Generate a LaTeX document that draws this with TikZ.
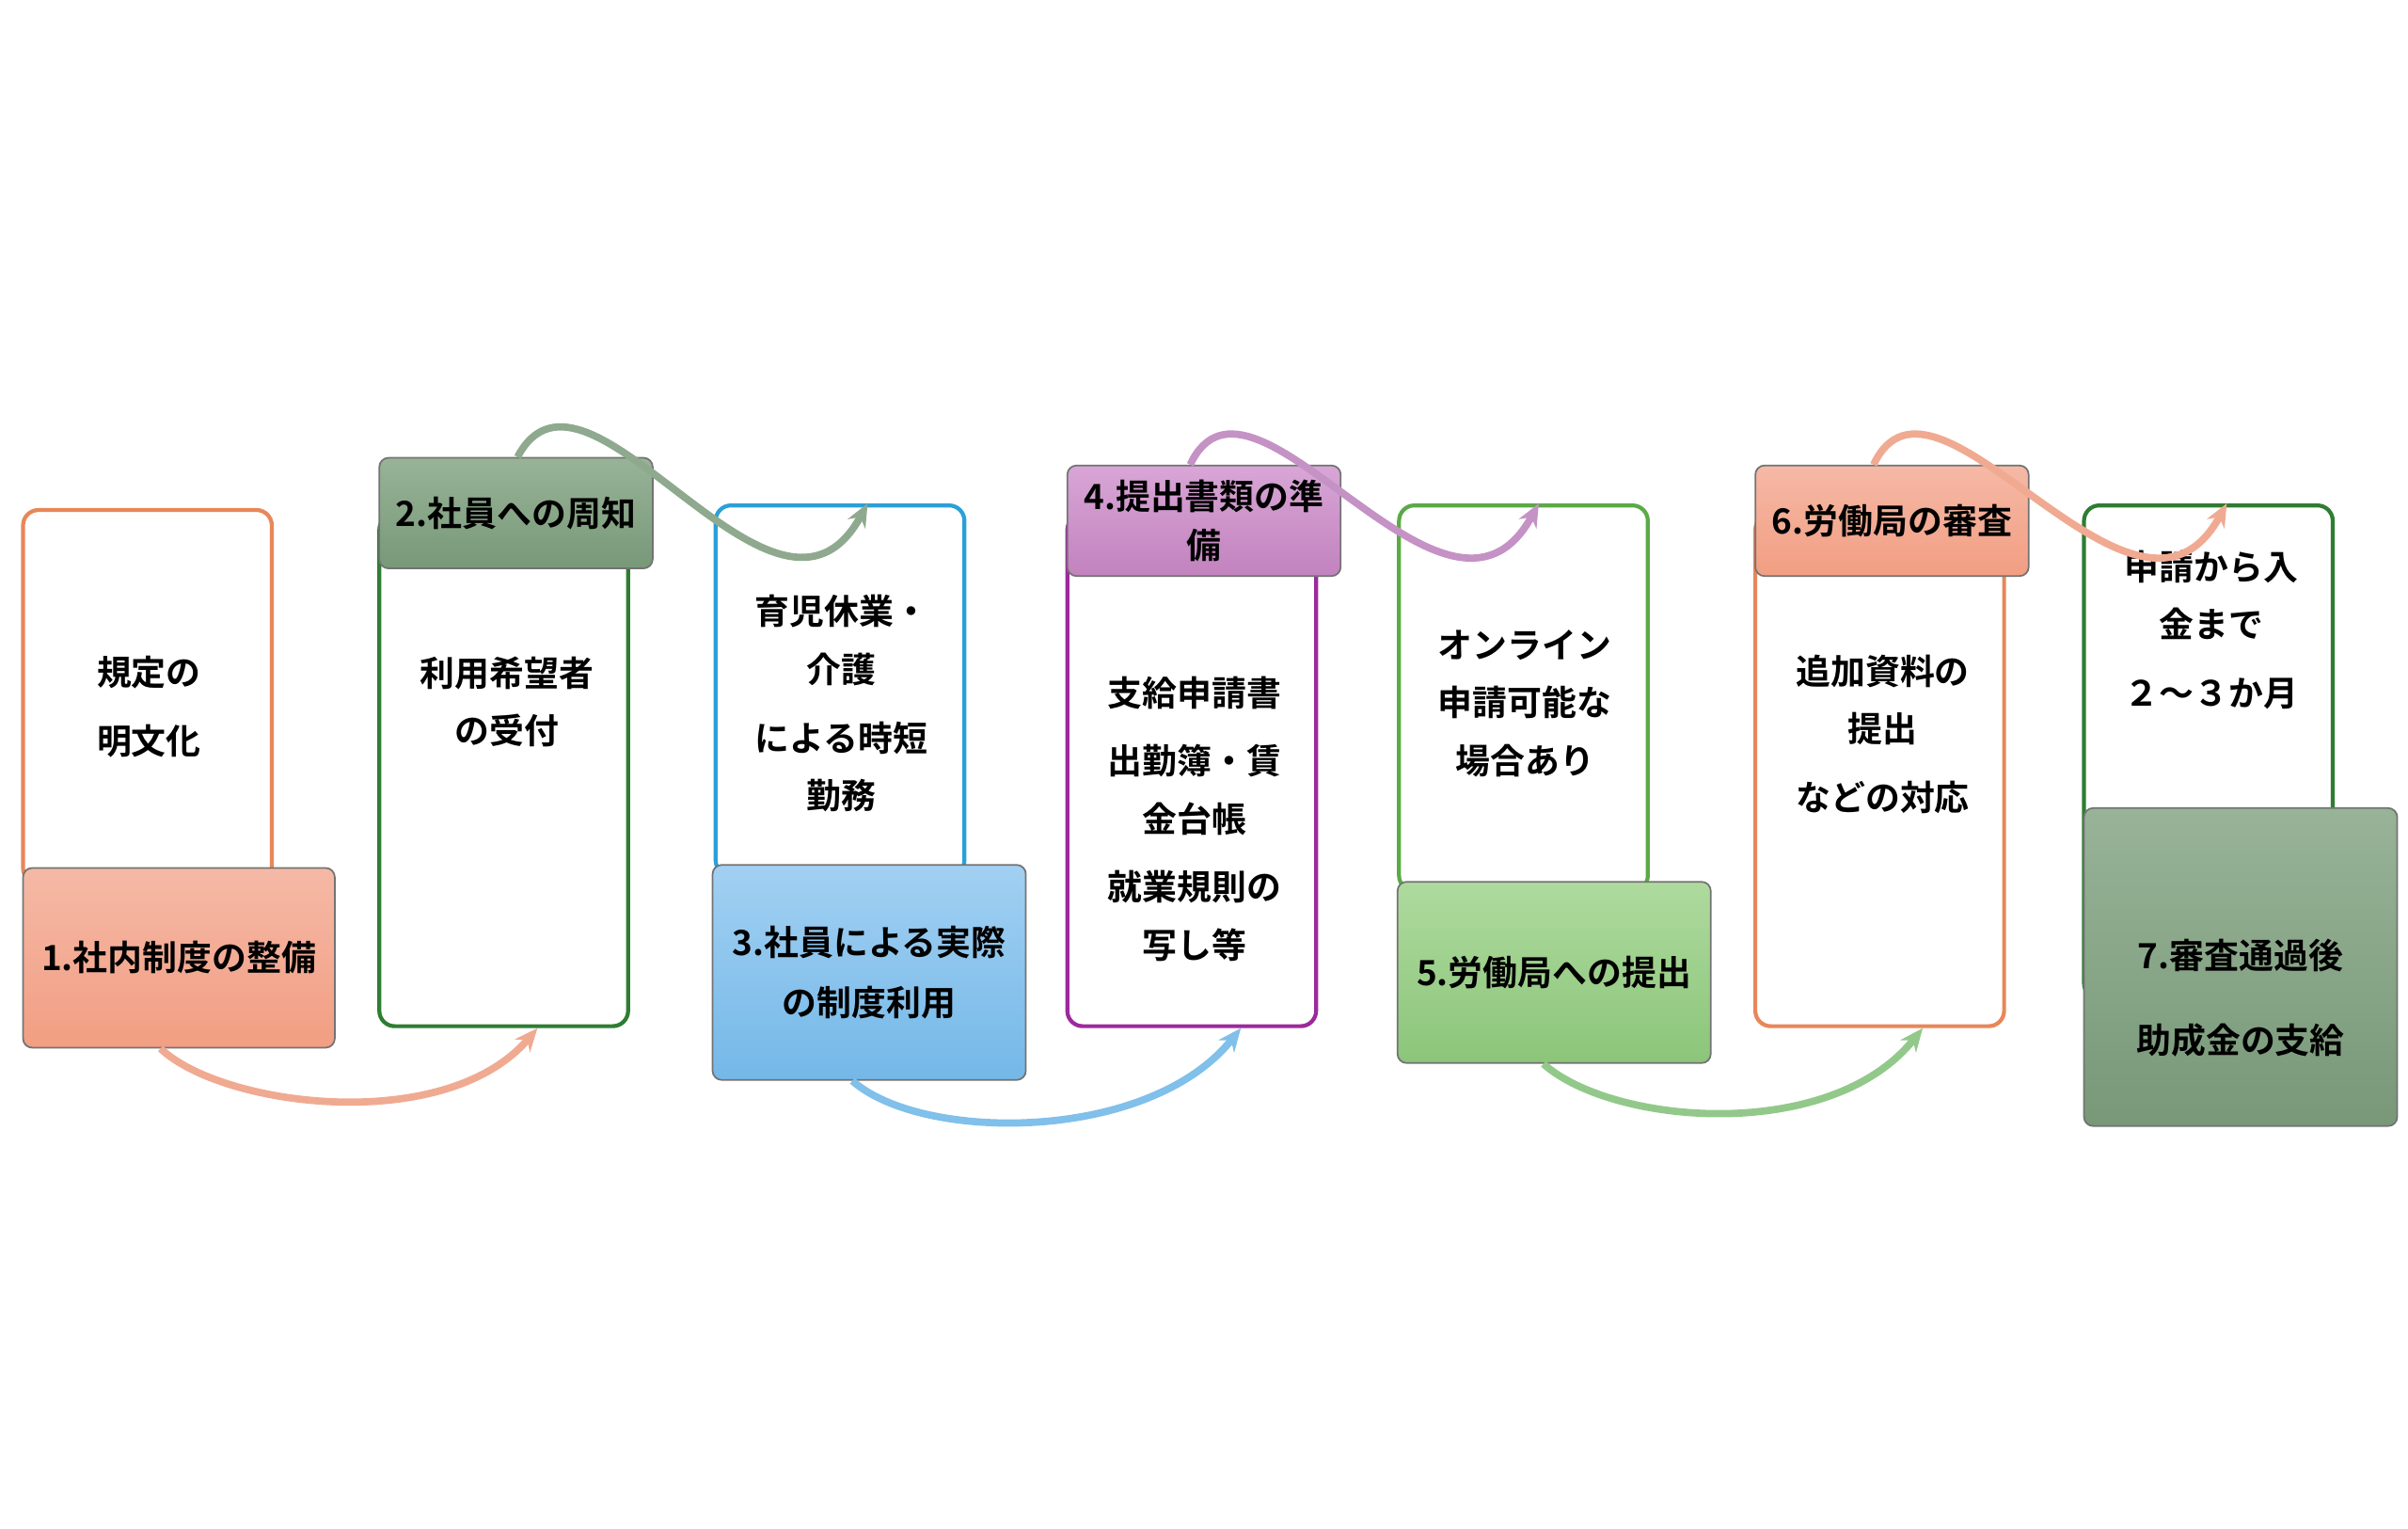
\documentclass[tikz,border=0pt]{standalone}
\usepackage{fontspec}
\setmainfont{Noto Sans CJK JP}[BoldFont={Noto Sans CJK JP Bold}]
\usetikzlibrary{arrows.meta,positioning}
\def\u{0.01633cm}
\definecolor{salmonA}{HTML}{F5B9A6}\definecolor{salmonB}{HTML}{F29E82}
\definecolor{sageA}{HTML}{98B398}\definecolor{sageB}{HTML}{789878}
\definecolor{skyA}{HTML}{A2D0F2}\definecolor{skyB}{HTML}{74B8E8}
\definecolor{plumA}{HTML}{D8A6D6}\definecolor{plumB}{HTML}{C282BE}
\definecolor{leafA}{HTML}{AEDA9E}\definecolor{leafB}{HTML}{8CC57A}
\definecolor{lineOr}{HTML}{E8875A}\definecolor{lineDg}{HTML}{2E7D32}
\definecolor{lineBl}{HTML}{2AA0D8}\definecolor{linePu}{HTML}{9C2A9C}
\definecolor{lineGr}{HTML}{5AAA46}
\definecolor{arOr}{HTML}{F0AA92}\definecolor{arSg}{HTML}{8FA98F}
\definecolor{arBl}{HTML}{80C0EA}\definecolor{arPu}{HTML}{C592C5}
\definecolor{arGr}{HTML}{92C98A}
\tikzset{
  card/.style={draw=#1, line width=1.2pt, rounded corners=10*\u, fill=white, minimum width=162*\u},
  tag/.style n args={2}{draw=black!55, line width=0.5pt, rounded corners=6*\u, top color=#1, bottom color=#2, align=center, font=\fontsize{10.5}{15}\selectfont\bfseries},
  note/.style={align=center, font=\fontsize{10.5}{17.5}\selectfont\bfseries},
  flow/.style={draw=#1, line width=2.2pt, -{Stealth[length=7pt,width=6pt]}}
}
\begin{document}
\begin{tikzpicture}[x=\u, y=-\u]
\useasboundingbox (0,0) rectangle (1568,995);

\node[card=lineOr, minimum height=243*\u] (c1) at (96,453.5) {};
\node[tag={salmonA}{salmonB}, minimum width=203*\u, minimum height=117*\u] (l1) at (116.5,623.5) {1.社内制度の整備};
\node[note] (t1) at (97,460) {規定の\\[0.3em]明文化};

\node[card=lineDg, minimum height=333*\u] (c2) at (328,501.5) {};
\node[tag={sageA}{sageB}, minimum width=178*\u, minimum height=72*\u] (l2) at (336,334) {2.社員への周知};
\node[note] (t2) at (330,457) {利用希望者\\の受付};

\node[card=lineBl, minimum height=241*\u] (c3) at (547,449.5) {};
\node[tag={skyA}{skyB}, minimum width=204*\u, minimum height=140*\u] (l3) at (566,633) {3.社員による実際\\[0.3em]の制度利用};
\node[note] (t3) at (548,458) {育児休業・\\介護\\[0.3em]による時短\\勤務};

\node[card=linePu, minimum height=333*\u] (c4) at (776,501.5) {};
\node[tag={plumA}{plumB}, minimum width=178*\u, minimum height=72*\u] (l4) at (784,339) {4.提出書類の準\\備};
\node[note] (t4) at (778,533) {支給申請書\\[0.3em]出勤簿・賃\\金台帳\\[0.3em]就業規則の\\写し等};

\node[card=lineGr, minimum height=251*\u] (c5) at (992,454.5) {};
\node[tag={leafA}{leafB}, minimum width=204*\u, minimum height=118*\u] (l5) at (1012,633) {5.労働局への提出};
\node[note] (t5) at (993,458) {オンライン\\申請可能な\\場合あり};

\node[card=lineOr, minimum height=333*\u] (c6) at (1224,501.5) {};
\node[tag={salmonA}{salmonB}, minimum width=178*\u, minimum height=72*\u] (l6) at (1232,339) {6.労働局の審査};
\node[note] (t6) at (1226,478) {追加資料の\\提出\\[0.3em]などの対応};

\node[card=lineDg, minimum height=321*\u] (c7) at (1438,489.5) {};
\node[tag={sageA}{sageB}, minimum width=204*\u, minimum height=207*\u] (l7) at (1459,629.5) {\\[1.2em]7.審査通過後\\[1em]助成金の支給};
\node[note] (t7) at (1440,410) {申請から入\\金まで\\[0.3em]２～３か月};

\draw[flow=arOr] ([xshift=-12*\u]l1.south) .. controls +(40,38) and +(-60,70) .. ([xshift=22*\u]c2.south);
\draw[flow=arSg] ([xshift=1*\u]l2.north) .. controls +(45,-85) and +(-60,110) .. ([xshift=18*\u]c3.north);
\draw[flow=arBl] ([xshift=-11*\u]l3.south) .. controls +(45,40) and +(-60,75) .. ([xshift=32*\u]c4.south);
\draw[flow=arPu] ([xshift=-9*\u]l4.north) .. controls +(40,-85) and +(-60,110) .. ([xshift=10*\u]c5.north);
\draw[flow=arGr] ([xshift=-7*\u]l5.south) .. controls +(45,40) and +(-60,75) .. ([xshift=28*\u]c6.south);
\draw[flow=arOr] ([xshift=-12*\u]l6.north) .. controls +(40,-85) and +(-60,110) .. ([xshift=12*\u]c7.north);
\end{tikzpicture}
\end{document}
